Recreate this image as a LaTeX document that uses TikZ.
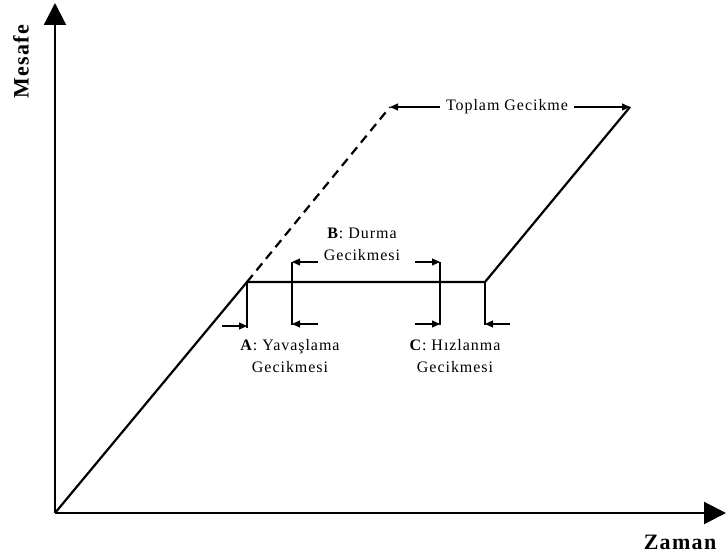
\documentclass[tikz,border=0pt]{standalone}
\usepackage{fontspec}
\setmainfont{Liberation Serif}
\newfontfamily\lblfont{Liberation Serif}[LetterSpace=6]
\usetikzlibrary{arrows.meta,positioning}

\begin{document}
\begin{tikzpicture}[x=1pt,y=1pt,>={Triangle[length=8pt,width=7pt]},
  axis/.style={line width=2.2pt,-{Triangle[length=22pt,width=22pt]}},
  path/.style={line width=2.2pt},
  lagline/.style={line width=1.8pt},
  lagarrow/.style={line width=1.1pt,->},
  lbl/.style={font=\lblfont\fontsize{16}{22}\selectfont,align=center,inner sep=0pt},
  axlbl/.style={font=\lblfont\fontsize{22}{24}\selectfont\bfseries,inner sep=0pt}]
\useasboundingbox (0,0) rectangle (727,558);
\coordinate (O) at (55,45);
\coordinate (ytop) at (55,555);
\coordinate (xend) at (726,45);
\coordinate (P1) at (247,276);
\coordinate (P2) at (485,276);
\coordinate (P3) at (630,451);
\coordinate (D) at (390,451);
\draw[axis] (O)--(ytop);
\draw[axis] (O)--(xend);
\node[axlbl,rotate=90] (mes) at (21,496) {Mesafe};
\node[axlbl] (zam) at (680,16) {Zaman};
\draw[path] (O)--(P1)--(P2)--(P3);
\draw[path,dashed,dash pattern=on 9pt off 6pt] (P1)--(D);
\node[lbl,inner xsep=6pt] (top) at (507,451) {Toplam Gecikme};
\draw[lagarrow] (top.west)--(D);
\draw[lagarrow] (top.east)--(P3);
\coordinate (A1) at (247,230);
\coordinate (B1) at (292,296); \coordinate (B2) at (292,233);
\coordinate (C1) at (440,296); \coordinate (C2) at (440,233);
\coordinate (E1) at (485,233);
\draw[lagline] (P1)--(A1);
\draw[lagline] (B1)--(B2);
\draw[lagline] (C1)--(C2);
\draw[lagline] (P2)--(E1);
\draw[lagarrow] ([xshift=-25pt,yshift=2pt]A1)--([yshift=2pt]A1);
\draw[lagarrow] ([xshift=26pt]B1)--(B1);
\draw[lagarrow] ([xshift=26pt,yshift=1pt]B2)--([yshift=1pt]B2);
\draw[lagarrow] ([xshift=-25pt]C1)--(C1);
\draw[lagarrow] ([xshift=-25pt,yshift=1pt]C2)--([yshift=1pt]C2);
\draw[lagarrow] ([xshift=25pt,yshift=1pt]E1)--([yshift=1pt]E1);
\node[lbl] (lagB) at (362,314) {\textbf{B}: Durma\\Gecikmesi};
\node[lbl] (lagA) at (290,202) {\textbf{A}: Yavaşlama\\Gecikmesi};
\node[lbl] (lagC) at (455,202) {\textbf{C}: Hızlanma\\Gecikmesi};
\end{tikzpicture}
\end{document}
